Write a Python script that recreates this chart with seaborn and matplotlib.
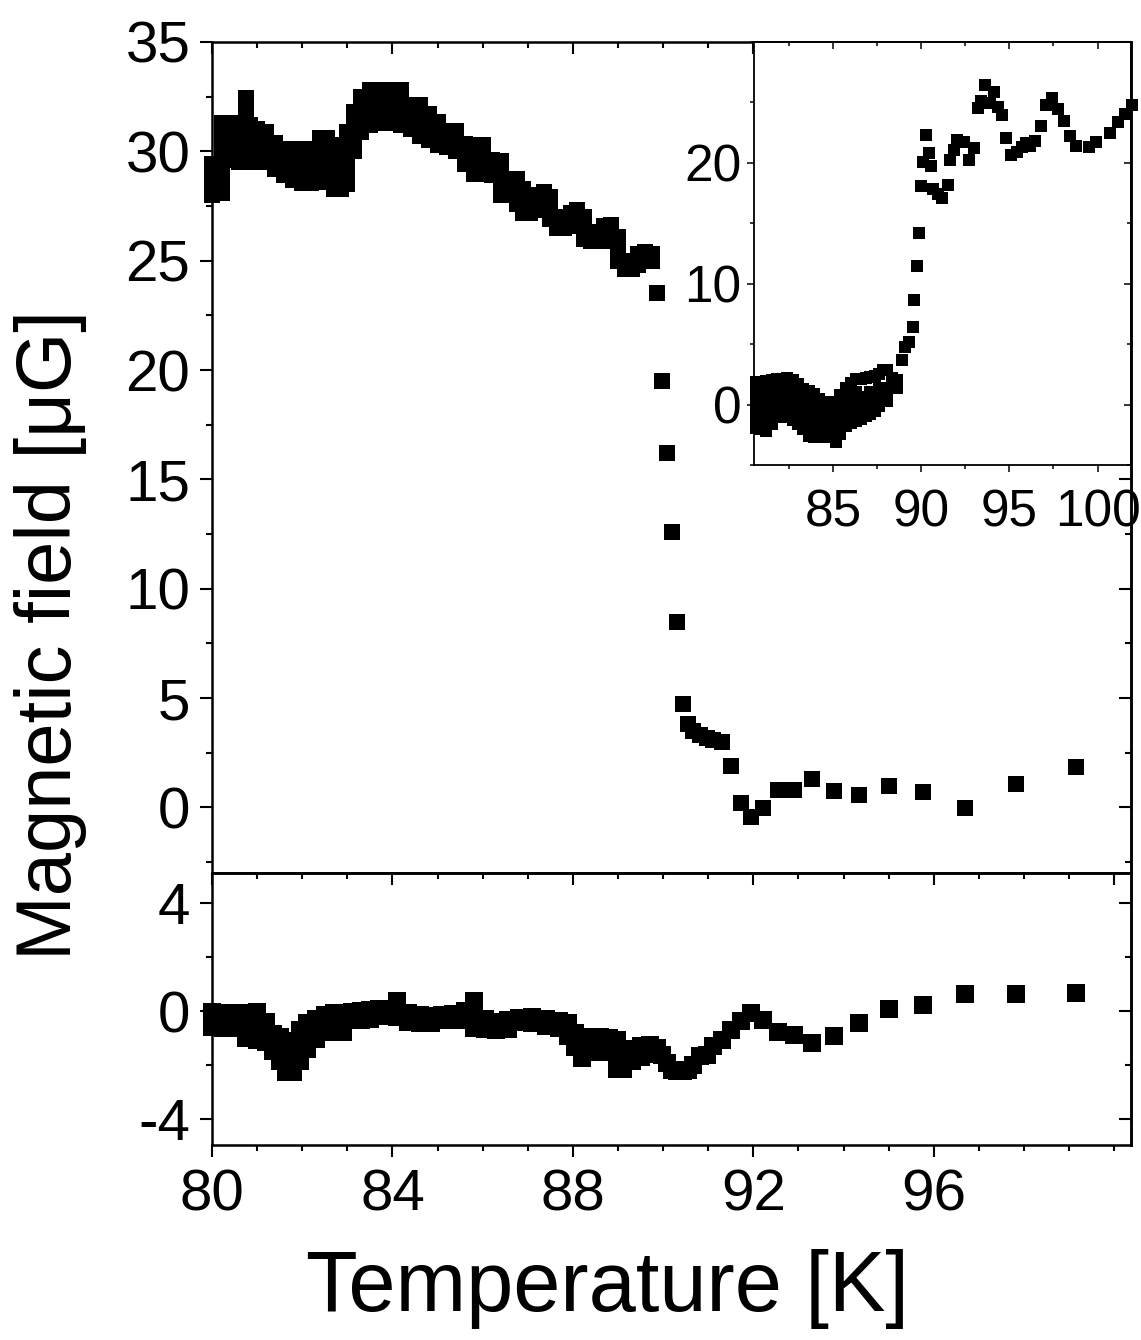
import matplotlib
matplotlib.use("Agg")
import matplotlib.pyplot as plt
from matplotlib.ticker import MultipleLocator, NullFormatter
import seaborn as sns

sns.set_style("ticks")
plt.rcParams["font.family"] = ["Liberation Sans", "DejaVu Sans"]
plt.rcParams["axes.unicode_minus"] = False
plt.rcParams["axes.linewidth"] = 1.8
for key in ["text.color", "axes.labelcolor", "axes.edgecolor", "xtick.color", "ytick.color"]:
    plt.rcParams[key] = "black"

# ---------- data ----------
# main panel, dense part: one column per temperature, field values in that column
top_t = [80.0, 80.23, 80.4, 80.6, 80.76, 80.85, 81.0, 81.2, 81.4, 81.6,
         81.8, 82.0, 82.2, 82.4, 82.55, 82.7, 82.85, 83.0, 83.15, 83.3,
         83.5, 83.7, 83.85, 84.0, 84.2, 84.4, 84.6, 84.8, 85.0, 85.2,
         85.4, 85.6, 85.8, 86.0, 86.2, 86.4, 86.6, 86.75, 86.9, 87.05,
         87.2, 87.35, 87.5, 87.65, 87.8, 87.95, 88.1, 88.25, 88.4, 88.55,
         88.7, 88.85, 89.0, 89.15, 89.3, 89.45, 89.6, 89.75]
top_b = [
    [28.0, 28.5, 29.0, 29.4],
    [28.1, 28.7, 29.3, 29.9, 30.5, 31.0, 31.3],
    [29.6, 30.2, 30.8, 31.3],
    [29.5, 30.1, 30.7, 31.3],
    [31.8, 32.45],
    [29.5, 30.1, 30.7, 31.2],
    [29.5, 30.0, 30.5, 31.0],
    [29.5, 30.0, 30.5, 30.9],
    [29.2, 29.8, 30.4],
    [28.9, 29.5, 30.1],
    [28.7, 29.3, 29.8, 30.1],
    [28.55, 29.1, 29.6, 30.1],
    [28.55, 29.1, 29.6, 30.1],
    [28.6, 29.2, 29.8, 30.3, 30.6],
    [28.6, 29.2, 29.8, 30.3, 30.6],
    [28.3, 28.9, 29.4, 29.8],
    [28.3, 28.9, 29.5, 30.0, 30.3],
    [28.5, 29.1, 29.7, 30.3, 30.9],
    [30.0, 30.6, 31.2, 31.8],
    [30.9, 31.5, 32.0, 32.5],
    [31.2, 31.8, 32.3, 32.8],
    [31.3, 31.8, 32.3, 32.8],
    [31.9, 32.5],
    [31.3, 31.8, 32.3, 32.8],
    [31.2, 31.7, 32.2, 32.8],
    [31.0, 31.6, 32.1],
    [30.7, 31.2, 31.7, 32.1],
    [30.5, 31.1, 31.7],
    [30.3, 30.8, 31.35],
    [30.2, 30.6, 30.95],
    [30.0, 30.5, 30.95],
    [29.4, 29.9, 30.35],
    [28.95, 29.5, 30.0, 30.3],
    [28.95, 29.5, 30.0, 30.3],
    [28.9, 29.3, 29.6],
    [28.0, 28.5, 29.0, 29.55],
    [28.0, 28.4, 28.75],
    [27.6, 28.2, 28.75],
    [27.2, 27.8, 28.3],
    [27.2, 27.6],
    [27.3, 27.7, 28.0],
    [27.6, 28.15],
    [26.9, 27.4, 27.9],
    [26.5, 27.0],
    [26.5, 26.9],
    [26.6, 27.2],
    [26.8, 27.3],
    [26.0, 26.5, 27.0],
    [25.9, 26.2],
    [25.9, 26.3],
    [26.0, 26.6],
    [25.9, 26.3, 26.65],
    [25.0, 25.6, 26.1],
    [24.6, 25.0],
    [24.6, 24.9],
    [24.8, 25.3],
    [25.0, 25.4],
    [25.0, 25.3],
]

# sparse points after the transition (same temperatures in both panels)
sparse_t = [89.87, 89.98, 90.08, 90.19, 90.30, 90.43, 90.54, 90.67, 90.82, 90.97,
            91.11, 91.30, 91.50, 91.72, 91.95, 92.22, 92.54, 92.89, 93.30, 93.78,
            94.34, 95.0, 95.77, 96.70, 97.82, 99.14]
sparse_top = [23.5, 19.5, 16.2, 12.6, 8.5, 4.75, 3.8, 3.5, 3.33, 3.17,
              3.08, 3.0, 1.87, 0.2, -0.42, -0.03, 0.78, 0.8, 1.28, 0.75,
              0.58, 1.0, 0.7, -0.05, 1.08, 1.83]
sparse_bottom = [-1.36, -1.63, -1.91, -2.16, -2.22, -2.22, -2.16, -1.97, -1.66, -1.6,
                 -1.3, -1.05, -0.68, -0.37, -0.06, -0.31, -0.78, -0.87, -1.17, -0.9,
                 -0.43, 0.09, 0.22, 0.64, 0.64, 0.68]

# lower panel, dense part
bottom_t = [80.0, 80.25, 80.5, 80.75, 81.0, 81.2, 81.35, 81.5, 81.65, 81.8,
            81.95, 82.1, 82.3, 82.5, 82.7, 82.9, 83.1, 83.3, 83.5, 83.7,
            83.9, 84.1, 84.35, 84.6, 84.85, 85.1, 85.35, 85.6, 85.8, 86.05,
            86.3, 86.55, 86.8, 87.1, 87.4, 87.7, 87.9, 88.05, 88.2, 88.4,
            88.6, 88.8, 88.97, 89.12, 89.3, 89.5, 89.7]
bottom_b = [
    [-0.57, -0.02], [-0.6, -0.05], [-0.62, -0.08], [-1.0, -0.5, -0.05],
    [-1.08, -0.55, -0.02], [-1.15, -0.7, -0.39], [-1.46, -0.83],
    [-1.83, -1.3, -0.95], [-2.26, -1.8, -1.5], [-2.26, -1.7, -1.1],
    [-1.83, -1.25, -0.7], [-1.4, -0.9, -0.45], [-1.02, -0.5, -0.27],
    [-0.71, -0.15], [-0.78, -0.4, -0.08], [-0.75, -0.3, -0.05],
    [-0.34, -0.02], [-0.34, 0.02], [-0.3, 0.05], [-0.16, 0.07],
    [-0.16, 0.1], [-0.2, 0.38], [-0.41, -0.08], [-0.44, -0.15],
    [-0.44, -0.17], [-0.34, -0.15], [-0.34, -0.1], [-0.34, 0.0],
    [-0.6, -0.1, 0.37], [-0.65, -0.3], [-0.71, -0.39], [-0.65, -0.33],
    [-0.41, -0.25], [-0.45, -0.2], [-0.53, -0.3], [-0.6, -0.35],
    [-0.9, -0.45], [-1.33, -0.8], [-1.73, -1.2, -0.95], [-1.5, -0.97],
    [-1.33, -0.97], [-1.5, -1.0], [-2.13, -1.6, -1.07], [-2.13, -1.44],
    [-1.83, -1.38], [-1.7, -1.3], [-1.58, -1.26],
]

# inset, dense part
inset_t = [80.6, 80.9, 81.2, 81.5, 81.8, 82.1, 82.4, 82.7, 83.0, 83.3,
           83.6, 83.9, 84.2, 84.5, 84.8, 85.15, 85.4, 85.7, 86.0, 86.3,
           86.6, 86.85, 87.1, 87.35, 87.6, 87.85, 88.05, 88.35, 88.6]
inset_b = [
    [-1.9, -1.1, -0.3, 0.5, 1.3, 1.9],
    [-2.0, -1.2, -0.4, 0.4, 1.2, 1.9],
    [-2.15, -1.35, -0.55, 0.25, 1.05, 1.95],
    [-1.6, -0.8, 0.0, 0.8, 1.5, 2.0],
    [-1.05, -0.25, 0.55, 1.35, 2.1],
    [-1.05, -0.25, 0.55, 1.35, 2.15],
    [-1.05, -0.25, 0.55, 1.4, 2.2],
    [-1.3, -0.5, 0.3, 1.1, 2.0],
    [-1.6, -0.8, 0.0, 0.8, 1.7],
    [-2.0, -1.2, -0.4, 0.4, 1.3],
    [-2.6, -1.8, -1.0, -0.2, 0.6, 1.1],
    [-2.7, -1.9, -1.1, -0.3, 0.5, 0.85],
    [-2.7, -1.9, -1.1, -0.3, 0.5],
    [-2.7, -1.9, -1.1, -0.4, 0.25],
    [-2.7, -1.9, -1.0, -0.2],
    [-3.1, -2.3, -1.5, -0.7, 0.2],
    [-2.4, -1.6, -0.8, 0.0, 0.8],
    [-1.8, -1.0, -0.2, 0.6, 1.4],
    [-1.5, -0.7, 0.1, 0.9, 1.8],
    [-1.35, -0.55, 0.25, 1.05, 2.15],
    [-1.2, -0.4, 0.4, 2.1],
    [-0.96, -0.2, 0.6, 2.2],
    [-0.8, 0.0, 1.0, 2.3],
    [-0.5, 0.3, 2.35],
    [-0.15, 0.6, 1.4, 2.5],
    [1.37, 2.9],
    [0.3, 1.0, 2.9],
    [1.5, 2.2],
    [1.4, 2.05],
]
inset_sparse_t = [88.89, 89.08, 89.27, 89.5, 89.59, 89.74, 89.87, 89.97, 90.08, 90.25,
                  90.41, 90.53, 90.68, 90.97, 91.16, 91.49, 91.64, 91.83, 92.02, 92.4,
                  92.68, 92.96, 93.19, 93.4, 93.63, 93.87, 94.1, 94.33, 94.58, 94.82,
                  95.1, 95.43, 95.71, 95.95, 96.18, 96.47, 96.79, 97.09, 97.41, 97.76,
                  98.08, 98.45, 98.8, 99.54, 99.93, 100.69, 101.15, 101.58, 101.96]
inset_sparse_b = [3.7, 4.79, 5.2, 6.38, 8.63, 11.5, 14.19, 18.08, 20.07, 22.27,
                  20.81, 19.72, 17.8, 17.4, 17.12, 18.13, 20.27, 21.09, 21.91, 21.72,
                  20.27, 21.23, 24.51, 25.12, 26.43, 24.92, 25.83, 24.65, 23.97, 22.05,
                  20.68, 20.9, 21.28, 21.64, 21.36, 21.83, 23.01, 24.79, 25.39, 24.46,
                  23.48, 22.19, 21.36, 21.28, 21.69, 22.51, 23.42, 24.02, 24.79]


def flatten(ts, cols):
    xs = [t for t, col in zip(ts, cols, strict=True) for _ in col]
    ys = [v for col in cols for v in col]
    return xs, ys


def inner_ticks(ax, side, major, minor, maj_len, min_len, width, lw):
    # ticks pointing into the plot on the top / right side
    if side == "top":
        sec = ax.secondary_xaxis("top")
        axis = sec.xaxis
    else:
        sec = ax.secondary_yaxis("right")
        axis = sec.yaxis
    axis.set_major_locator(MultipleLocator(major))
    axis.set_minor_locator(MultipleLocator(minor))
    axis.set_major_formatter(NullFormatter())
    sec.tick_params(which="both", direction="in", width=width, color="black")
    sec.tick_params(which="major", length=maj_len)
    sec.tick_params(which="minor", length=min_len)
    sec.spines[side].set_linewidth(lw)
    sec.spines[side].set_color("black")
    return sec


def squares(ax, x, y, size):
    sns.scatterplot(x=x, y=y, ax=ax, marker="s", color="black", s=size,
                    linewidth=0, clip_on=False)


fig = plt.figure(figsize=(11.41, 13.40), dpi=100)

# ---------- upper panel ----------
ax_top = fig.add_axes([0.1858, 0.34851, 0.80543, 0.62015])
tx, ty = flatten(top_t, top_b)
squares(ax_top, tx, ty, 117)
squares(ax_top, sparse_t, sparse_top, 117)
ax_top.set_xlim(80, 100.37)
ax_top.set_ylim(-3, 35)
ax_top.xaxis.set_major_locator(MultipleLocator(4))
ax_top.xaxis.set_minor_locator(MultipleLocator(1))
ax_top.yaxis.set_major_locator(MultipleLocator(5))
ax_top.yaxis.set_minor_locator(MultipleLocator(2.5))
ax_top.tick_params(axis="x", which="both", direction="in", top=True, bottom=False,
                   labelbottom=False, width=1.5)
ax_top.tick_params(axis="y", which="both", direction="out", left=True, right=False,
                   labelsize=42, pad=7, width=1.5)
ax_top.tick_params(which="major", length=8.6)
ax_top.tick_params(which="minor", length=4.3)
inner_ticks(ax_top, "right", 5, 2.5, 8.6, 4.3, 1.5, 1.8)

# ---------- lower panel ----------
ax_bot = fig.add_axes([0.1858, 0.14552, 0.80543, 0.20299])
bx, by = flatten(bottom_t, bottom_b)
squares(ax_bot, bx, by, 159)
squares(ax_bot, sparse_t, sparse_bottom, 159)
ax_bot.set_xlim(80, 100.37)
ax_bot.set_ylim(-4.95, 5.12)
ax_bot.xaxis.set_major_locator(MultipleLocator(4))
ax_bot.xaxis.set_minor_locator(MultipleLocator(1))
ax_bot.yaxis.set_major_locator(MultipleLocator(4))
ax_bot.yaxis.set_minor_locator(MultipleLocator(2))
ax_bot.tick_params(which="both", direction="out", labelsize=42, width=1.5)
ax_bot.tick_params(axis="x", pad=8)
ax_bot.tick_params(axis="y", pad=7)
ax_bot.tick_params(which="major", length=8.6)
ax_bot.tick_params(which="minor", length=4.3)
ax_bot.set_xticks([80, 84, 88, 92, 96])
inner_ticks(ax_bot, "top", 4, 1, 8.6, 4.3, 1.5, 1.8)
inner_ticks(ax_bot, "right", 4, 2, 8.6, 4.3, 1.5, 1.8)

# ---------- inset ----------
ax_in = fig.add_axes([0.66083, 0.65299, 0.33041, 0.31567], zorder=5)
ax_in.set_facecolor("white")
ix, iy = flatten(inset_t, inset_b)
squares(ax_in, ix, iy, 66)
squares(ax_in, inset_sparse_t, inset_sparse_b, 66)
ax_in.set_xlim(80.5, 101.9)
ax_in.set_ylim(-5, 30)
ax_in.xaxis.set_major_locator(MultipleLocator(5))
ax_in.xaxis.set_minor_locator(MultipleLocator(2.5))
ax_in.yaxis.set_major_locator(MultipleLocator(10))
ax_in.yaxis.set_minor_locator(MultipleLocator(5))
ax_in.set_xticks([85, 90, 95, 100])
ax_in.set_yticks([0, 10, 20])
for side in ax_in.spines.values():
    side.set_linewidth(1.3)
ax_in.tick_params(which="both", direction="out", labelsize=37, width=1.1)
ax_in.tick_params(axis="x", pad=12)
ax_in.tick_params(axis="y", pad=4)
ax_in.tick_params(which="major", length=5)
ax_in.tick_params(which="minor", length=3)
inner_ticks(ax_in, "top", 5, 2.5, 5, 3, 1.1, 1.3)
inner_ticks(ax_in, "right", 10, 5, 5, 3, 1.1, 1.3)

# ---------- axis titles ----------
fig.text(0.532, 0.022, "Temperature [K]", fontsize=61, ha="center", va="baseline")
fig.text(0.044, 0.526, "Magnetic field [μG]", fontsize=56, rotation=90,
         ha="center", va="center")

fig.savefig("out.png", dpi=100)
